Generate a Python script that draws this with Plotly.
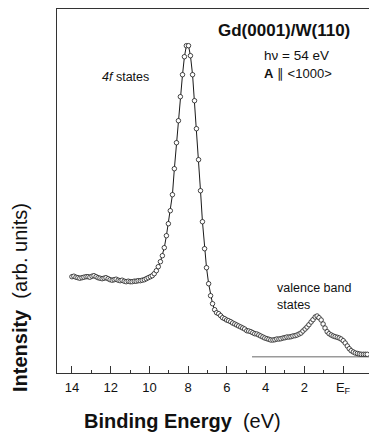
import plotly.graph_objects as go

# Binding energy (eV) of each measured point
energy = [14.00, 13.90, 13.79, 13.69, 13.59, 13.48, 13.38, 13.27, 13.17, 13.07,
          12.96, 12.86, 12.75, 12.65, 12.55, 12.44, 12.34, 12.24, 12.13, 12.03,
          11.92, 11.82, 11.72, 11.61, 11.51, 11.41, 11.30, 11.20, 11.09, 10.99,
          10.89, 10.78, 10.68, 10.58, 10.47, 10.37, 10.26, 10.16, 10.06, 9.95,
          9.85, 9.75, 9.64, 9.54, 9.43, 9.33, 9.23, 9.12, 9.02, 8.92,
          8.81, 8.71, 8.60, 8.50, 8.40, 8.29, 8.19, 8.09, 7.98, 7.88,
          7.77, 7.67, 7.57, 7.46, 7.36, 7.26, 7.15, 7.05, 6.94, 6.84,
          6.74, 6.63, 6.53, 6.42, 6.32, 6.22, 6.11, 6.01, 5.91, 5.80,
          5.70, 5.59, 5.49, 5.39, 5.28, 5.18, 5.08, 4.97, 4.87, 4.76,
          4.66, 4.56, 4.45, 4.35, 4.25, 4.14, 4.04, 3.93, 3.83, 3.73,
          3.62, 3.52, 3.42, 3.31, 3.21, 3.10, 3.00, 2.90, 2.79, 2.69,
          2.59, 2.48, 2.38, 2.27, 2.17, 2.07, 1.96, 1.86, 1.76, 1.65,
          1.55, 1.44, 1.34, 1.24, 1.13, 1.03, 0.93, 0.82, 0.72, 0.61,
          0.51, 0.41, 0.30, 0.20, 0.10, -0.01, -0.11, -0.22, -0.32, -0.42,
          -0.53, -0.63, -0.74, -0.84, -0.94, -1.05, -1.15, -1.25]

# Photoemission intensity (arb. units)
intensity = [80, 80.5, 79.5, 79, 78.5, 79, 79.5, 80, 80, 79.5,
             80.5, 81, 80, 79, 78.5, 78, 78.5, 79, 78, 77,
             76.5, 77, 77.5, 76.5, 76, 76.5, 75.5, 75, 75.5, 75,
             75, 75.5, 75.5, 76, 76, 76.5, 77, 78, 79, 80,
             81, 83, 86, 90, 95, 101, 109, 121, 133, 146,
             162, 188, 214, 236, 260, 282, 300, 311, 311, 301,
             282, 256, 228, 197, 166, 135, 108, 89, 73, 61,
             53, 47, 44, 43, 41, 39, 38, 36.7, 36, 35,
             33.7, 32.7, 31.7, 30.7, 29.7, 28.7, 27.7, 26, 25.7, 25,
             24, 23, 22.7, 21.7, 20.7, 19.7, 18.7, 18, 17.4, 16.7,
             16.7, 17, 17.7, 17.7, 18, 18.7, 19, 19.7, 19.7, 20,
             20.7, 21, 21.7, 22.7, 23.7, 25.7, 27.7, 29.7, 32, 34.7,
             37, 39.7, 40.7, 39, 36.7, 32.7, 28.7, 25, 23, 21.7,
             20.7, 20, 19.4, 18.7, 17.7, 16, 13.7, 10.7, 8, 6,
             4.7, 3.7, 3.2, 2.7, 2.4, 2.4, 2.4, 2.4]

# zero-intensity baseline
baseline_energy = [4.7, -1.4]
baseline_value = [0, 0]

major_ticks = [14, 12, 10, 8, 6, 4, 2, 0]
major_labels = ["14", "12", "10", "8", "6", "4", "2", "E<sub>F</sub>"]
minor_ticks = [13, 11, 9, 7, 5, 3, 1]

W, H = 369, 439
ML, MR, MT, MB = 57, 0, 9, 66
PW, PH = W - ML - MR, H - MT - MB


def px(x):
    return (x - ML) / PW


def py(y):
    return (H - MB - y) / PH


FONT = "Liberation Sans, Arial, Helvetica, sans-serif"

fig = go.Figure()
fig.add_trace(go.Scatter(x=baseline_energy, y=baseline_value, mode="lines",
                         line=dict(color="#9a9a9a", width=1.5),
                         hoverinfo="skip", showlegend=False))
fig.add_trace(go.Scatter(x=energy, y=intensity, mode="lines+markers",
                         line=dict(color="#1a1a1a", width=1),
                         marker=dict(symbol="circle", size=4.5, color="white",
                                     line=dict(color="#1a1a1a", width=0.8)),
                         showlegend=False))

ann = [
    dict(text="<b>Gd(0001)/W(110)</b>", x=px(284), y=py(30), size=17,
         xanchor="center"),
    dict(text="hν = 54 eV", x=px(262), y=py(56), size=13.5, xanchor="left"),
    dict(text="<b>A</b> ∥ &lt;1000&gt;", x=px(262), y=py(73), size=13,
         xanchor="left"),
    dict(text="<i>4f</i> states", x=px(100), y=py(77), size=12.5,
         xanchor="left"),
    dict(text="valence band", x=px(275), y=py(288), size=12.5,
         xanchor="left"),
    dict(text="states", x=px(275), y=py(305), size=12.5, xanchor="left"),
]
annotations = []
for a in ann:
    annotations.append(dict(text=a["text"], x=a["x"], y=a["y"], xref="paper",
                            yref="paper", xanchor=a["xanchor"],
                            yanchor="middle", showarrow=False,
                            font=dict(family=FONT, size=a["size"],
                                      color="#111")))
annotations.append(dict(text="<b>Binding Energy</b>  (eV)", x=px(182),
                        y=py(421), xref="paper", yref="paper",
                        xanchor="center", yanchor="middle", showarrow=False,
                        font=dict(family=FONT, size=20, color="#111")))
annotations.append(dict(text="<b>Intensity</b>  (arb. units)", x=px(20),
                        y=py(298), xref="paper", yref="paper",
                        xanchor="center", yanchor="middle", showarrow=False,
                        textangle=-90,
                        font=dict(family=FONT, size=20, color="#111")))

fig.update_layout(
    width=W, height=H,
    margin=dict(l=ML, r=MR, t=MT, b=MB, pad=0),
    paper_bgcolor="white", plot_bgcolor="white",
    annotations=annotations,
    xaxis=dict(range=[14.77, -1.34], showgrid=False, zeroline=False,
               showline=True, linecolor="#333", linewidth=1, mirror=True,
               tickmode="array", tickvals=major_ticks, ticktext=major_labels,
               ticks="inside", ticklen=7, tickwidth=1, tickcolor="#333",
               ticklabelstandoff=2,
               tickfont=dict(family=FONT, size=13, color="#111"),
               minor=dict(tickmode="array", tickvals=minor_ticks,
                          ticks="inside", ticklen=3, tickwidth=1,
                          tickcolor="#333", showgrid=False)),
    yaxis=dict(range=[-16.3, 347.7], showgrid=False, zeroline=False,
               showline=True, linecolor="#333", linewidth=1,
               showticklabels=False, ticks=""),
)

fig.write_html("out.html",
               config={"displayModeBar": False},
               post_script="document.body.style.margin='0px';"
                           "document.body.style.overflow='hidden';")
